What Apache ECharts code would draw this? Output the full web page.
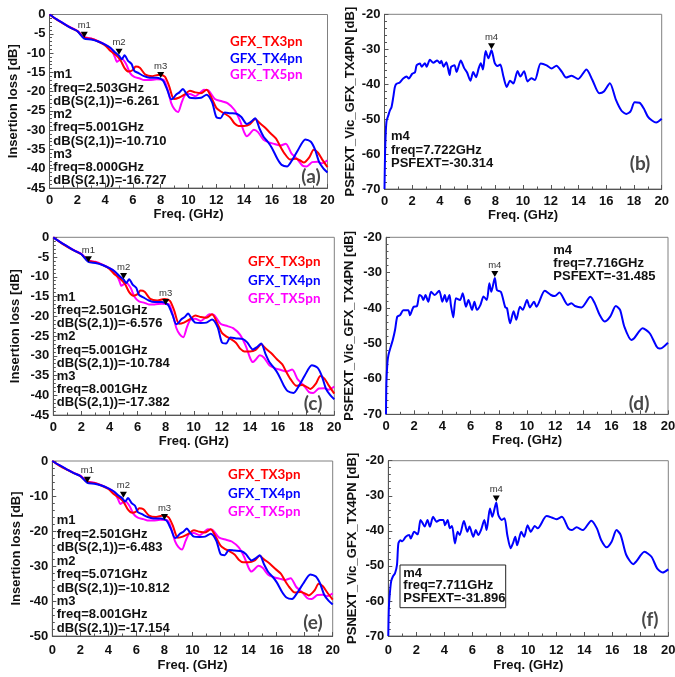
<!DOCTYPE html>
<html><head><meta charset="utf-8">
<script src="https://cdn.jsdelivr.net/npm/echarts@6/dist/echarts.min.js"></script>
<style>html,body{margin:0;padding:0;background:#fff}#c{width:675px;height:677px}</style>
</head><body><div id="c"></div>
<script>
// ---------------- DATA ----------------
const seriesNames = ['GFX_TX3pn', 'GFX_TX4pn', 'GFX_TX5pn'];
const seriesColors = ['#ff0000', '#0000ff', '#ff00ff'];

// Insertion loss (panels a, c, e)
const freqTX3 = [0,0.5,1,1.5,2,2.5,3,3.5,4,4.4,4.8,5.1,5.4,5.7,6.0,6.2,6.5,6.9,7.4,7.9,8.3,8.6,8.95,9.3,9.7,10.1,10.5,10.9,11.3,11.7,12.0,12.3,12.6,13.0,13.3,13.6,14.0,14.4,14.8,15.1,15.5,15.9,16.3,16.6,16.9,17.3,17.7,18.0,18.3,18.7,19.0,19.3,19.6,20.0];
const ilTX3 = [0,-1.3,-2.4,-3.4,-4.3,-6.0,-6.3,-7.0,-8.0,-9.5,-10.6,-11.8,-13.9,-14.8,-14.4,-13.5,-13.8,-15.6,-16.0,-15.6,-16.1,-18.5,-21.9,-21.6,-20.8,-19.8,-20.2,-20.4,-19.5,-22.0,-24.2,-25.1,-25.7,-26.7,-28.2,-28.9,-28.9,-28.5,-27.1,-28.1,-29.3,-30.8,-32.2,-34.2,-36.0,-37.6,-37.4,-37.8,-38.4,-37.0,-35.1,-35.8,-37.5,-39.6];

const freqTX4 = [0,0.5,1,1.5,2,2.5,3,3.5,4,4.4,4.7,5.0,5.2,5.4,5.65,5.9,6.1,6.4,6.8,7.2,7.7,8.0,8.2,8.5,8.75,8.9,9.1,9.35,9.6,9.8,10.1,10.5,10.9,11.3,11.7,12.0,12.3,12.6,13.0,13.5,13.8,14.2,14.5,14.8,15.1,15.4,15.7,16.0,16.4,16.7,17.1,17.5,17.9,18.4,18.8,19.1,19.4,19.7,20.0];
const ilTX4 = [0,-1.2,-2.3,-3.4,-4.3,-6.26,-6.5,-7.0,-7.8,-8.7,-9.8,-10.7,-11.6,-10.6,-12.0,-12.8,-14.6,-15.2,-16.0,-16.4,-16.4,-16.7,-17.3,-19.8,-22.0,-21.7,-20.8,-20.2,-19.3,-20.3,-21.6,-21.7,-21.6,-20.8,-22.8,-26.6,-26.9,-25.4,-25.6,-25.8,-26.6,-28.4,-27.8,-26.9,-29.5,-31.7,-33.0,-34.6,-37.5,-39.0,-39.4,-37.5,-35.0,-32.4,-33.0,-35.0,-38.3,-39.9,-41.0];

const freqTX5 = [0,0.5,1,1.5,2,2.5,3,3.5,4,4.4,4.7,4.85,5.0,5.2,5.5,5.8,6.1,6.5,6.8,7.2,7.7,8.2,8.5,8.75,9.0,9.25,9.5,9.75,10.1,10.5,10.8,11.1,11.4,11.9,12.4,12.8,13.3,13.7,14.0,14.2,14.4,14.7,15.0,15.4,15.8,16.2,16.6,17.0,17.4,17.8,18.2,18.5,18.9,19.3,19.6,20.0];
const ilTX5 = [0,-1.2,-2.3,-3.3,-4.2,-5.9,-6.2,-6.9,-7.8,-8.8,-11.0,-12.3,-11.9,-11.5,-12.8,-15.2,-16.2,-16.6,-17.0,-17.0,-16.8,-16.9,-19.5,-22.9,-24.6,-25.3,-22.9,-20.9,-20.6,-21.2,-20.4,-19.5,-19.6,-21.9,-22.5,-23.0,-24.7,-27.5,-30.5,-31.6,-31.0,-29.9,-30.5,-32.5,-33.2,-33.6,-34.0,-33.5,-36.0,-37.4,-39.2,-39.4,-38.3,-38.2,-38.6,-37.8];

// Crosstalk (panels b, d, f)
const freqB = [0,0.04,0.09,0.15,0.27,0.39,0.51,0.63,0.75,0.87,1.1,1.35,1.6,1.75,2.0,2.2,2.32,2.56,2.68,2.92,3.04,3.28,3.52,3.8,4.0,4.1,4.27,4.46,4.7,4.8,5.05,5.2,5.5,5.75,5.95,6.2,6.4,6.6,6.8,6.95,7.1,7.3,7.5,7.72,7.95,8.15,8.35,8.58,8.82,9.06,9.3,9.6,9.8,10.07,10.32,10.6,10.85,11.27,11.7,12.06,12.4,12.8,13.1,13.5,13.97,14.57,15.0,15.5,15.83,16.26,16.7,17.1,17.45,17.75,18.05,18.4,18.7,19.0,19.3,19.6,20.0];
const xtB = [-70,-60,-54,-50.5,-49,-47.5,-46.5,-43.8,-40.8,-39.9,-39.5,-38.4,-37.8,-38.4,-37.0,-36.6,-34.6,-34.1,-35.0,-34.0,-35.0,-33.0,-33.9,-33.2,-34.0,-33.3,-35.0,-33.7,-37.4,-35.1,-34.6,-36.5,-33.2,-35.4,-36.6,-39.0,-36.5,-38.0,-35.4,-34.0,-35.8,-30.5,-32.6,-30.3,-33.9,-34.8,-34.4,-37.8,-40.8,-39.0,-39.8,-36.2,-37.8,-36.3,-39.2,-38.3,-38.8,-34.1,-34.6,-35.5,-34.7,-36.5,-38.1,-37.6,-38.5,-35.8,-38.8,-42.6,-42.1,-39.7,-44.5,-47.6,-48.5,-47.8,-45.2,-45.3,-46.9,-49.3,-50.4,-51.0,-49.9];

const freqD = [0,0.03,0.1,0.17,0.33,0.48,0.64,0.8,1.0,1.23,1.58,1.7,1.94,2.2,2.37,2.53,2.65,2.8,3.0,3.2,3.46,3.77,4.0,4.17,4.3,4.5,4.6,4.77,4.96,5.25,5.44,5.67,5.85,6.1,6.27,6.45,6.7,6.92,7.15,7.33,7.47,7.716,7.87,8.15,8.46,8.58,8.8,9.05,9.24,9.5,9.7,10.0,10.2,10.5,10.67,11.26,11.7,11.97,12.3,12.9,13.15,13.4,13.86,14.5,14.8,15.15,15.5,15.9,16.3,16.6,16.9,17.4,17.6,18.2,18.7,19.2,19.4,19.6,20.0];
const xtD = [-70,-61,-55.5,-53.3,-51,-49,-46.2,-42.4,-42,-40.6,-40.6,-42,-39.7,-39.4,-36.3,-36.7,-37.7,-36.3,-38.2,-35.4,-36.3,-35.1,-38.2,-36.3,-38.2,-36.3,-39.1,-42.6,-37.2,-37.7,-35.8,-39.6,-37.7,-40.5,-38.2,-40.5,-39.1,-36.7,-37.7,-33.0,-35.4,-31.5,-34.9,-35.4,-39.8,-40.0,-44.3,-40.9,-43.3,-39.6,-40.5,-37.7,-39.8,-38.2,-39.6,-35.1,-36.3,-36.6,-35.6,-39.1,-38.6,-39.4,-39.8,-36.8,-38.6,-41.9,-43.8,-42.4,-39.4,-40.5,-45.2,-49.0,-48.5,-45.7,-47.1,-50.9,-51.4,-51.2,-49.8];

const freqF = [0,0.04,0.1,0.2,0.32,0.48,0.62,0.72,0.86,1.0,1.25,1.5,1.6,1.85,2.1,2.3,2.45,2.6,2.8,2.97,3.2,3.45,3.69,3.93,4.05,4.24,4.4,4.55,4.76,4.95,5.1,5.4,5.65,5.8,6.07,6.25,6.42,6.62,6.86,7.02,7.26,7.43,7.711,7.86,8.1,8.3,8.5,8.74,8.9,9.07,9.2,9.5,9.7,9.95,10.18,10.46,10.67,11.3,11.67,12.0,12.4,12.86,13.1,13.45,13.9,14.5,14.9,15.2,15.6,15.95,16.3,16.6,17.0,17.5,17.7,18.3,18.8,19.2,19.6,20.0];
const xtF = [-70,-62,-58.3,-54.5,-53.1,-52.1,-49.7,-43.6,-42.7,-43.0,-41.7,-41.2,-42.2,-40.3,-41.0,-36.9,-37.8,-38.8,-36.9,-38.8,-36.0,-37.4,-36.9,-36.9,-38.4,-36.9,-39.3,-38.6,-43.6,-40.3,-41.2,-37.2,-40.3,-38.8,-41.7,-39.8,-41.2,-39.8,-36.9,-39.8,-33.6,-36.0,-31.9,-35.5,-36.9,-36.4,-41.2,-45.0,-43.6,-41.7,-44.1,-40.3,-41.7,-38.4,-40.3,-38.6,-39.3,-35.8,-36.2,-36.7,-36.0,-39.3,-39.8,-39.0,-39.8,-37.1,-39.3,-42.6,-44.7,-43.1,-39.8,-41.2,-46.9,-49.5,-48.8,-46.0,-47.4,-50.7,-51.9,-51.0];

// Marker readouts
const markersA = [['m1', 2.503, -6.261], ['m2', 5.001, -10.710], ['m3', 8.000, -16.727]];
const markersC = [['m1', 2.501, -6.576], ['m2', 5.001, -10.784], ['m3', 8.001, -17.382]];
const markersE = [['m1', 2.501, -6.483], ['m2', 5.071, -10.812], ['m3', 8.001, -17.154]];
const markerB = ['m4', 7.722, -30.314];
const markerD = ['m4', 7.716, -31.485];
const markerF = ['m4', 7.711, -31.896];

const panelLetters = ['(a)', '(b)', '(c)', '(d)', '(e)', '(f)'];
const ilYName = 'Insertion loss [dB]';
const xtYNames = ['PSFEXT_Vic_GFX_TX4PN [dB]', 'PSFEXT_Vic_GFX_TX4PN [dB]', 'PSNEXT_Vic_GFX_TX4PN [dB]'];
const xName = 'Freq. (GHz)';

// ---------------- LAYOUT / STYLE ----------------
const FONT = 'Liberation Sans';
const LFONT = 'Lato';
const grids = [
  {left: 49.5, top: 14.5, width: 278, height: 173.5},
  {left: 384.5, top: 14.3, width: 277.2, height: 174.7},
  {left: 53.3, top: 237.3, width: 281, height: 177.7},
  {left: 386, top: 237.3, width: 282, height: 177},
  {left: 52.3, top: 461, width: 280.4, height: 175},
  {left: 388.3, top: 460.7, width: 280, height: 175.3}
];
const yRanges = [[-45, 0, 5], [-70, -20, 10], [-45, 0, 5], [-70, -20, 10], [-50, 0, 10], [-70, -20, 10]];
const yNameGaps = [30, 28, 31, 30, 29, 29.5];
const xNameGaps = [20, 20, 19.5, 19.5, 23, 23];
const xLabelMargins = [6, 6, 6, 6, 8, 8];

const zip = (a, b) => a.map((x, i) => [x, b[i]]);
const txt = {fontFamily: FONT, fontWeight: 'bold', fontSize: 13, color: '#111'};

const xAxes = grids.map((g, i) => ({
  type: 'value', gridIndex: i, min: 0, max: 20, interval: 2,
  name: xName, nameLocation: 'middle', nameGap: xNameGaps[i], nameTextStyle: txt,
  axisLine: {show: true, onZero: false, lineStyle: {color: '#555'}},
  axisTick: {show: true, inside: true, length: 4, lineStyle: {color: '#555'}},
  minorTick: {show: true, splitNumber: 2, length: 2.5, lineStyle: {color: '#555'}},
  splitLine: {show: false},
  axisLabel: Object.assign({margin: xLabelMargins[i], showMinLabel: true, showMaxLabel: true}, txt)
}));
const yAxes = grids.map((g, i) => ({
  type: 'value', gridIndex: i, min: yRanges[i][0], max: yRanges[i][1], interval: yRanges[i][2],
  name: (i % 2 === 0) ? ilYName : xtYNames[(i - 1) / 2],
  nameLocation: 'middle', nameGap: yNameGaps[i], nameTextStyle: txt,
  axisLine: {show: true, onZero: false, lineStyle: {color: '#555'}},
  axisTick: {show: true, inside: true, length: 4, lineStyle: {color: '#555'}},
  minorTick: {show: true, splitNumber: 5, length: 2.5, lineStyle: {color: '#555'}},
  splitLine: {show: false},
  axisLabel: Object.assign({margin: 4, showMinLabel: true, showMaxLabel: true}, txt)
}));

function markPt(list) {
  return {
    symbol: 'triangle', symbolSize: [7, 6], symbolRotate: 180, symbolOffset: [0, -4],
    itemStyle: {color: '#000'}, animation: false,
    label: {show: true, position: 'top', distance: 1, formatter: '{b}', color: '#333',
            fontFamily: FONT, fontSize: 9.5},
    data: list.map(m => ({name: m[0], coord: [m[1], m[2]]}))
  };
}

const ilX = [freqTX3, freqTX4, freqTX5];
const ilY = [ilTX3, ilTX4, ilTX5];
const ilMarkers = {0: markersA, 2: markersC, 4: markersE};
const series = [];
[0, 2, 4].forEach(p => {
  for (let k = 0; k < 3; k++) {
    series.push({
      type: 'line', name: seriesNames[k], xAxisIndex: p, yAxisIndex: p,
      data: zip(ilX[k], ilY[k]), showSymbol: false, symbol: 'none', smooth: 0.25,
      lineStyle: {color: seriesColors[k], width: 2}, itemStyle: {color: seriesColors[k]},
      z: k === 1 ? 4 : (k === 0 ? 3 : 2),
      markPoint: k === 1 ? markPt(ilMarkers[p]) : undefined
    });
  }
});
const xtSets = [[1, freqB, xtB, markerB], [3, freqD, xtD, markerD], [5, freqF, xtF, markerF]];
xtSets.forEach(([p, fx, vy, mk]) => {
  series.push({
    type: 'line', name: 'xt' + p, xAxisIndex: p, yAxisIndex: p,
    data: zip(fx, vy), showSymbol: false, symbol: 'none', smooth: 0.25,
    lineStyle: {color: '#0000ff', width: 2},
    markPoint: markPt([mk])
  });
});

const legendPos = [[225, 33.7, 16.7], [243, 254, 18.2], [223, 467, 18.3]];
const legends = legendPos.map(([l, t, sp]) => ({
  left: l, top: t, orient: 'vertical', icon: 'none', itemWidth: 0, itemHeight: 16,
  itemGap: sp - 16, padding: 0, selectedMode: false,
  textStyle: {fontFamily: LFONT, fontWeight: 'bold', fontSize: 13.4, lineHeight: 16},
  data: seriesNames.map((n, k) => ({name: n, textStyle: {color: seriesColors[k]}}))
}));

function ilLines(list) {
  const out = [];
  list.forEach(m => {
    out.push(m[0]);
    out.push('freq=' + m[1].toFixed(3) + 'GHz');
    out.push('dB(S(2,1))=' + m[2].toFixed(3));
  });
  return out.join('\n');
}
function xtLines(m) {
  return [m[0], 'freq=' + m[1].toFixed(3) + 'GHz', 'PSFEXT=' + m[2].toFixed(3)].join('\n');
}
function block(x, yc, lh, text) {
  return {type: 'text', z: 100, style: {x: x, y: yc - lh / 2, text: text,
          fontSize: 13, fontWeight: 'bold', fontFamily: FONT,
          fill: '#111', lineHeight: lh, verticalAlign: 'top', textVerticalAlign: 'top'}};
}
const letterPos = [[311, 176.5], [640, 164], [313, 404], [639, 404], [313, 623], [650, 620]];
const graphics = [
  block(53.3, 74.7, 13.25, ilLines(markersA)),
  block(56.7, 297.3, 13.2, ilLines(markersC)),
  block(56.7, 520.7, 13.45, ilLines(markersE)),
  block(391, 136.7, 13.3, xtLines(markerB)),
  block(553.3, 250.7, 12.7, xtLines(markerD)),
  {type: 'rect', z: 99, shape: {x: 400, y: 565, width: 105.7, height: 42.7},
   style: {fill: '#fff', stroke: '#222', lineWidth: 1}},
  block(403.3, 573.3, 12.5, xtLines(markerF))
].concat(letterPos.map((p, i) => ({
  type: 'text', z: 100,
  style: {x: p[0], y: p[1], text: panelLetters[i], fontSize: 19, fontWeight: 'bold', fontFamily: LFONT,
          fill: '#484848', align: 'center', textAlign: 'center', verticalAlign: 'middle', textVerticalAlign: 'middle'}
})));

const option = {
  animation: false,
  backgroundColor: '#fff',
  grid: grids.map(g => Object.assign({show: true, borderColor: '#808080', borderWidth: 1,
        backgroundColor: 'transparent', containLabel: false, outerBoundsMode: 'none'}, g)),
  xAxis: xAxes, yAxis: yAxes,
  legend: legends,
  series: series,
  graphic: graphics
};
const chart = echarts.init(document.getElementById('c'), null, {renderer: 'canvas'});
chart.setOption(option);
</script></body></html>
